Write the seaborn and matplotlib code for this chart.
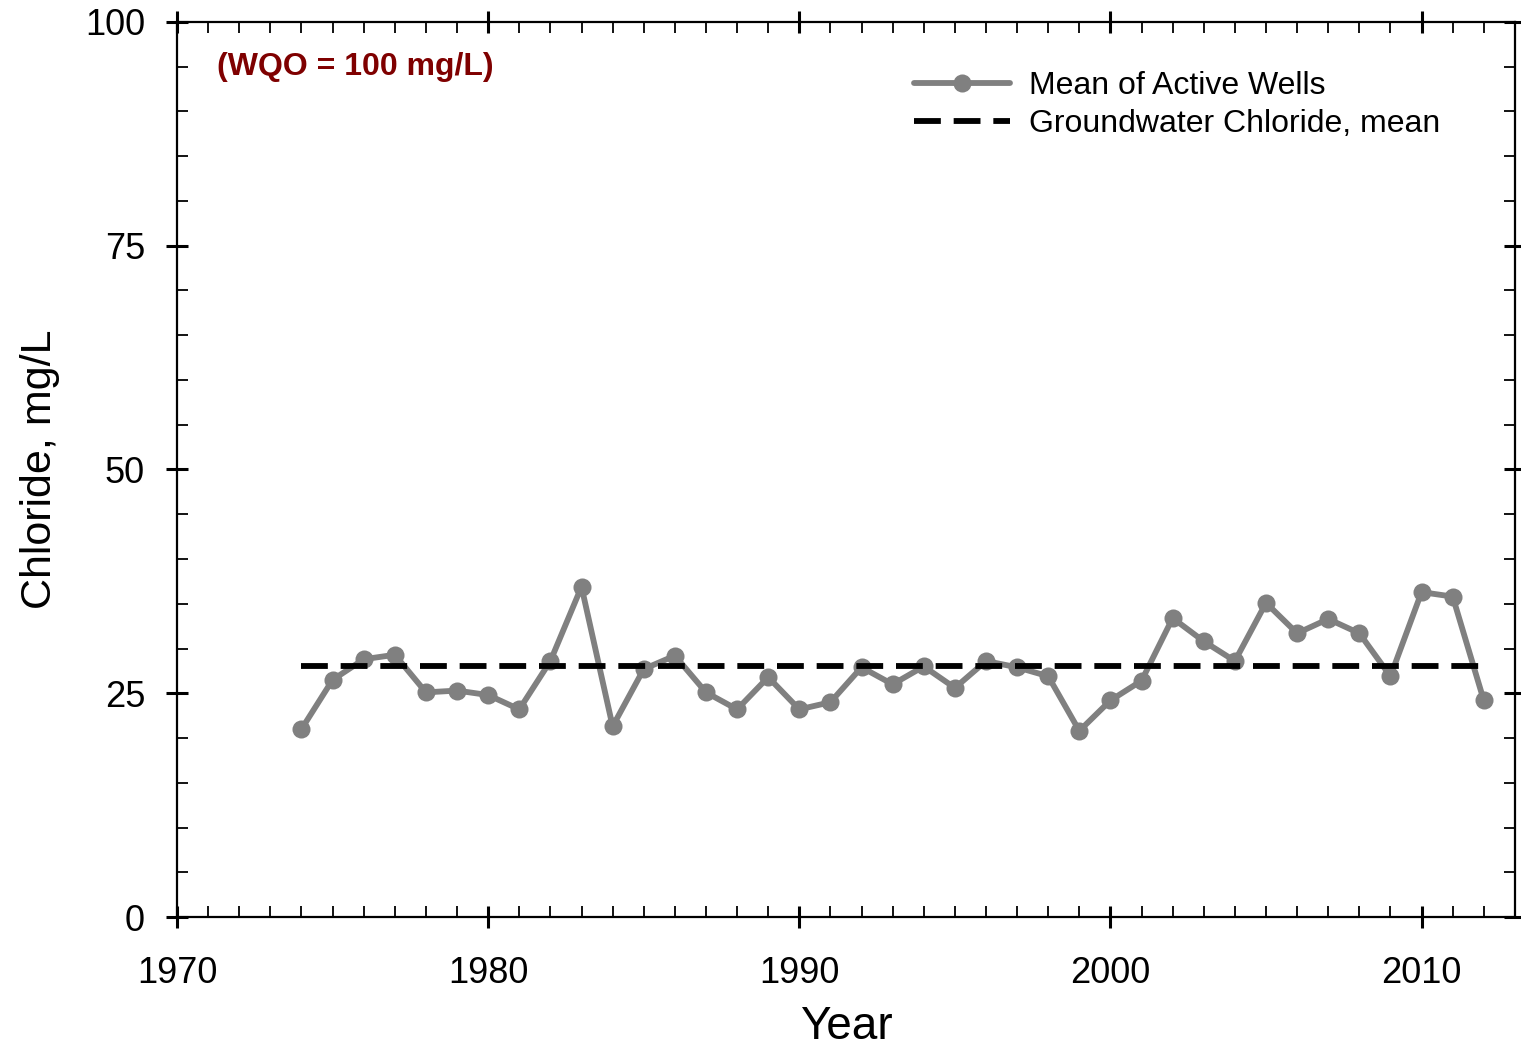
import matplotlib
matplotlib.use("Agg")
import matplotlib.pyplot as plt
import seaborn as sns
import pandas as pd
from matplotlib.ticker import MultipleLocator

# data
years = list(range(1974, 2013))
chloride = [21.0, 26.5, 28.8, 29.3, 25.1, 25.3, 24.8, 23.2, 28.6, 36.9,
            21.3, 27.7, 29.2, 25.1, 23.2, 26.8, 23.2, 24.0, 27.9, 26.0,
            28.0, 25.6, 28.6, 27.9, 26.9, 20.8, 24.2, 26.4, 33.4, 30.8,
            28.6, 35.1, 31.7, 33.3, 31.7, 26.9, 36.3, 35.8, 24.2]
mean_years = [1974, 2012]
mean_value = [28.0, 28.0]

sns.set_style("ticks")
plt.rcParams['font.family'] = ['Liberation Sans', 'DejaVu Sans']
plt.rcParams.update({"text.color": "black", "axes.labelcolor": "black",
                     "xtick.color": "black", "ytick.color": "black",
                     "axes.edgecolor": "black"})

df = pd.DataFrame({"Year": years, "Chloride": chloride})
mean_df = pd.DataFrame({"Year": mean_years, "Chloride": mean_value})

fig = plt.figure(figsize=(15.21, 10.56), dpi=100)
ax = fig.add_axes([0.1164, 0.1316, 0.8796, 0.8476])

sns.lineplot(data=df, x="Year", y="Chloride", ax=ax, color="#808080",
             linewidth=4.2, marker="o", markersize=13, markeredgewidth=0,
             label="Mean of Active Wells")
sns.lineplot(data=mean_df, x="Year", y="Chloride", ax=ax, color="black",
             linewidth=4.2, linestyle=(0, (4.6, 2.2)),
             label="Groundwater Chloride, mean")

ax.set_xlim(1970, 2013)
ax.set_ylim(0, 100)
ax.xaxis.set_major_locator(MultipleLocator(10))
ax.xaxis.set_minor_locator(MultipleLocator(1))
ax.yaxis.set_major_locator(MultipleLocator(25))
ax.yaxis.set_minor_locator(MultipleLocator(5))
ax.tick_params(which="major", direction="inout", length=16, width=2.2,
               labelsize=26, top=True, right=True)
ax.tick_params(axis="x", which="major", pad=20)
ax.tick_params(axis="y", which="major", pad=15)
ax.tick_params(which="minor", direction="in", length=8, width=1.3,
               top=True, right=True)
for s in ax.spines.values():
    s.set_linewidth(1.6)

ax.set_xlabel("Year", fontsize=33, labelpad=10)
ax.set_ylabel("Chloride, mg/L", fontsize=31, labelpad=18)

ax.text(0.03, 0.95, "(WQO = 100 mg/L)", transform=ax.transAxes,
        fontsize=23, fontweight="bold", color="#7f0000", va="center", ha="left")

ax.legend(loc="upper right", bbox_to_anchor=(0.966, 0.977), frameon=False,
          fontsize=23, handlelength=3.0, handletextpad=0.6, labelspacing=0.25)

fig.savefig("out.png", dpi=100)
